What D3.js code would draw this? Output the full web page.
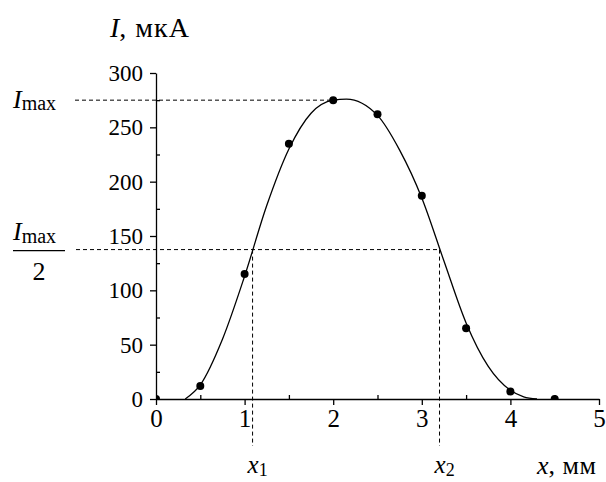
<!DOCTYPE html>
<html>
<head>
<meta charset="utf-8">
<script src="https://cdn.jsdelivr.net/npm/d3@7"></script>
<style>
	body { margin: 0; background: #fff; }
	svg { display: block; }
	text { font-family: 'Liberation Serif', 'Times New Roman', serif; fill: #000; }
	.tick text { font-size: 23px; }
	.x-axis .tick text { font-size: 25px; }
	.tick line, .domain { stroke: #000; stroke-width: 1.3; }
	.guide { stroke: #000; stroke-width: 1; stroke-dasharray: 4 3; fill: none; }
	.fit { stroke: #000; stroke-width: 1.3; fill: none; }
</style>
</head>
<body>
<svg width="606" height="482"></svg>
<script>
// measured points
const xPoints = [0, 0.5, 1.0, 1.5, 2.0, 2.5, 3.0, 3.5, 4.0, 4.5];
const iPoints = [0, 12, 115, 235, 275, 262, 187, 65, 7, 0];

// fitted curve
const xFit = [0.33, 0.5, 0.75, 1.0, 1.25, 1.5, 1.75, 2.0, 2.15, 2.5, 2.75, 3.0, 3.25, 3.5, 3.75, 4.0, 4.15, 4.3];
const iFit = [0, 13, 55, 113, 178, 230, 263, 275, 276, 261, 229, 185, 127, 70, 30, 8, 2, 0];

// half-maximum construction
const iMax = 275;
const xMaxAt = 2.0;
const x1 = 1.09;
const x2 = 3.2;

const xTicks = [0, 1, 2, 3, 4, 5];
const xMinor = [0.5, 1.5, 2.5, 3.5, 4.5];
const yTicks = [0, 50, 100, 150, 200, 250, 300];
const yMinor = [25, 75, 125, 175, 225, 275];

const svg = d3.select('svg');
const width = +svg.attr('width');
const height = +svg.attr('height');

const render = () => {
	const margin = {top: 73, right: 7, bottom: 83, left: 156};
	const innerWidth = width - margin.left - margin.right;
	const innerHeight = height - margin.top - margin.bottom;

	const xScale = d3.scaleLinear().domain([0, 5]).range([0, innerWidth]);
	const yScale = d3.scaleLinear().domain([0, 300]).range([innerHeight, 0]);

	const g = svg.append('g')
		.attr('transform', `translate(${margin.left}, ${margin.top})`);

	g.append('clipPath').attr('id', 'plot')
		.append('rect')
		.attr('width', innerWidth)
		.attr('height', innerHeight);

	// dashed guides
	const yHalf = yScale(iMax / 2);
	g.append('line').attr('class', 'guide')
		.attr('x1', -81).attr('x2', xScale(xMaxAt))
		.attr('y1', yScale(iMax)).attr('y2', yScale(iMax));
	g.append('line').attr('class', 'guide')
		.attr('x1', -80).attr('x2', xScale(x2))
		.attr('y1', yHalf).attr('y2', yHalf);
	[x1, x2].forEach(v => {
		g.append('line').attr('class', 'guide')
			.attr('x1', xScale(v)).attr('x2', xScale(v))
			.attr('y1', yHalf).attr('y2', innerHeight + 47);
	});

	// axes
	g.append('g').call(d3.axisLeft(yScale)
		.tickValues(yTicks).tickSize(6).tickSizeOuter(0).tickPadding(7));
	g.append('g').call(d3.axisRight(yScale)
		.tickValues(yMinor).tickSize(4).tickSizeOuter(0).tickFormat(''))
		.select('.domain').remove();

	g.append('g').attr('class', 'x-axis').call(d3.axisBottom(xScale)
		.tickValues(xTicks).tickSize(6).tickSizeOuter(0).tickPadding(4)
		.tickFormat(d3.format('d')))
		.attr('transform', `translate(0, ${innerHeight})`);
	g.append('g').call(d3.axisTop(xScale)
		.tickValues(xMinor).tickSize(4).tickSizeOuter(0).tickFormat(''))
		.attr('transform', `translate(0, ${innerHeight})`)
		.select('.domain').remove();

	g.selectAll('.tick text').attr('font-family', null).attr('font-size', null);

	// fitted curve
	const fitData = xFit.map((x, i) => ({x, y: iFit[i]}));
	const lineGenerator = d3.line()
		.x(d => xScale(d.x))
		.y(d => yScale(d.y))
		.curve(d3.curveMonotoneX);
	g.append('path')
		.attr('class', 'fit')
		.attr('d', lineGenerator(fitData));

	// points
	const pts = xPoints.map((x, i) => ({x, y: iPoints[i]}));
	g.append('g').attr('clip-path', 'url(#plot)')
		.selectAll('circle').data(pts).enter().append('circle')
		.attr('cx', d => xScale(d.x))
		.attr('cy', d => yScale(d.y))
		.attr('r', 4)
		.attr('fill', '#000');

	// y title
	const yt = svg.append('text').attr('x', 110).attr('y', 37).attr('font-size', 28);
	yt.append('tspan').attr('font-style', 'italic').text('I');
	yt.append('tspan').attr('letter-spacing', 1).text(', мкА');

	// x title
	const xt = svg.append('text').attr('x', 537).attr('y', 474).attr('font-size', 26);
	xt.append('tspan').attr('font-style', 'italic').text('x');
	xt.append('tspan').attr('letter-spacing', 0.5).text(', мм');

	// I_max label
	const imax = svg.append('text').attr('x', 13).attr('y', margin.top + yScale(iMax) + 8).attr('font-size', 26);
	imax.append('tspan').attr('font-style', 'italic').text('I');
	imax.append('tspan').attr('font-size', 20).attr('dy', 2).text('max');

	// I_max / 2 label
	const yh = margin.top + yHalf;
	const frac = svg.append('text').attr('x', 13).attr('y', yh - 10).attr('font-size', 26);
	frac.append('tspan').attr('font-style', 'italic').text('I');
	frac.append('tspan').attr('font-size', 20).attr('dy', 3).text('max');
	svg.append('line')
		.attr('x1', 13).attr('x2', 65)
		.attr('y1', yh + 1).attr('y2', yh + 1)
		.attr('stroke', '#000').attr('stroke-width', 1.3);
	svg.append('text').attr('x', 39).attr('y', yh + 30)
		.attr('font-size', 26).attr('text-anchor', 'middle').text('2');

	// x1, x2 labels
	[[x1, '1'], [x2, '2']].forEach(([v, sub]) => {
		const t = svg.append('text')
			.attr('x', margin.left + xScale(v) - 5)
			.attr('y', 473)
			.attr('font-size', 25);
		t.append('tspan').attr('font-style', 'italic').text('x');
		t.append('tspan').attr('font-size', 18).attr('dy', 3).text(sub);
	});
};

render();
</script>
</body>
</html>
